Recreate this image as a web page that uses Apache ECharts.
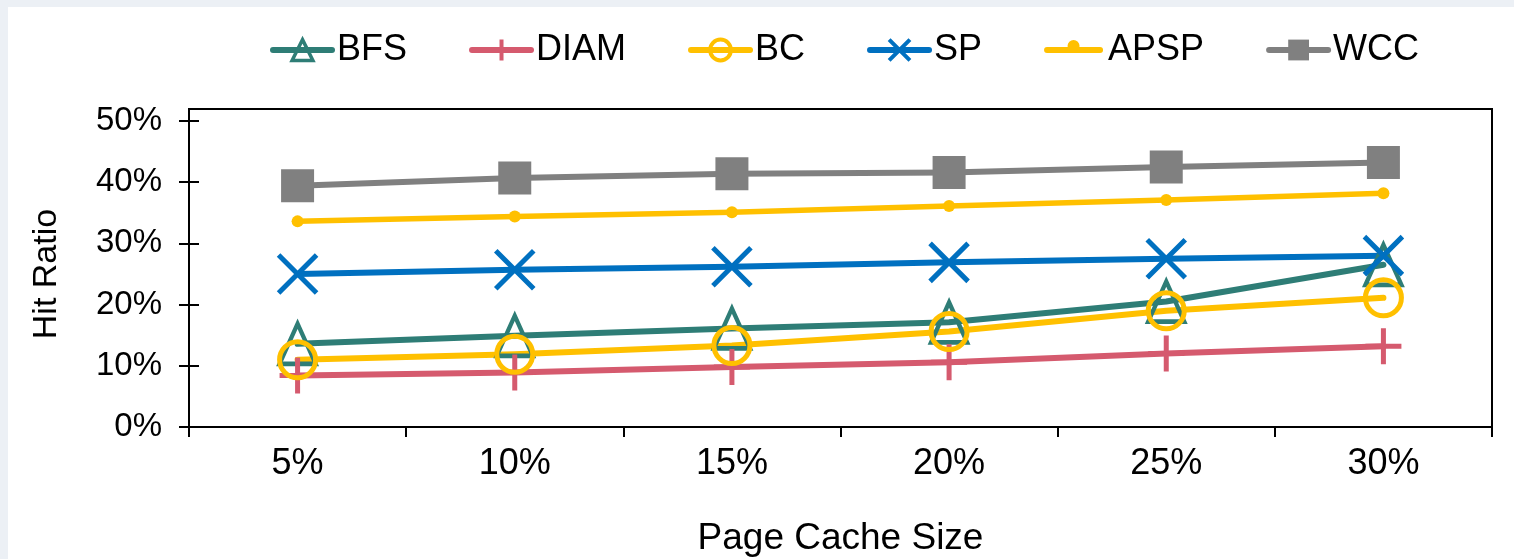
<!DOCTYPE html>
<html>
<head>
<meta charset="utf-8">
<script src="https://cdn.jsdelivr.net/npm/echarts@6/dist/echarts.min.js"></script>
<style>
  html, body { margin: 0; padding: 0; background: #ecf0f5; width: 1514px; height: 559px; overflow: hidden; }
  #chart { position: absolute; left: 8px; top: 7px; width: 1506px; height: 552px; background: #ffffff; }
</style>
</head>
<body>
<div id="chart"></div>
<script>
// Page cache size on the x axis, hit ratio (%) per graph algorithm
const categories = ['5%', '10%', '15%', '20%', '25%', '30%'];
const bfs  = [13.6, 14.9, 16.1, 17.1, 20.5, 26.5];
const diam = [8.4, 8.9, 9.8, 10.6, 12.0, 13.2];
const bc   = [11.0, 11.9, 13.3, 15.6, 19.0, 21.1];
const sp   = [25.0, 25.7, 26.2, 26.9, 27.5, 28.0];
const apsp = [33.6, 34.4, 35.1, 36.1, 37.1, 38.2];
const wcc  = [39.4, 40.7, 41.4, 41.6, 42.5, 43.2];
const yMin = 0, yMax = 50, yStep = 10;

const FONT = '"Liberation Sans", Arial, Helvetica, sans-serif';
const PLUS = 'path://M50,0 L50,100 M0,50 L100,50';
const CROSS = 'path://M0,0 L100,100 M100,0 L0,100';
// legend key for the small-dot series: rounded bar with a dot on it
// (the tiny trailing segment keeps the bar vertically centred in the key box)
const DOT_KEY = 'path://M3,13 H56 A3,3 0 0 1 56,19 H3 A3,3 0 0 1 3,13 Z ' +
                'M23.5,12 A6,6 0 1 1 35.5,12 A6,6 0 1 1 23.5,12 Z M29.5,26 L29.6,26';

function lineSeries(name, data, color, symbol, size, opts) {
  opts = opts || {};
  return {
    name: name,
    type: 'line',
    data: data,
    xAxisIndex: 0,
    yAxisIndex: 0,
    symbol: symbol,
    symbolSize: size,
    symbolKeepAspect: false,
    color: color,
    lineStyle: { color: color, width: opts.lineWidth || 6, cap: 'round', join: 'round' },
    itemStyle: opts.hollow
      ? { color: 'rgba(0,0,0,0)', borderColor: color, borderWidth: opts.borderWidth || 5 }
      : { color: color, borderColor: color, borderWidth: 0 },
    emphasis: { disabled: true },
    animation: false,
    clip: false
  };
}

const chart = echarts.init(document.getElementById('chart'), null, { renderer: 'canvas' });

chart.setOption({
  backgroundColor: '#ffffff',
  animation: false,
  textStyle: { fontFamily: FONT, color: '#000' },
  legend: {
    data: [
      { name: 'BFS', itemStyle: { borderWidth: 3.5 } },
      { name: 'DIAM', itemStyle: { borderWidth: 4 } },
      { name: 'BC', itemStyle: { borderWidth: 4 } },
      { name: 'SP', itemStyle: { borderWidth: 4 } },
      { name: 'APSP', icon: DOT_KEY, itemStyle: { color: '#FFC000', borderWidth: 0 } },
      { name: 'WCC', itemStyle: { borderWidth: 0 } }
    ],
    left: 262,
    top: 25,
    itemWidth: 59,
    itemHeight: 26,
    itemGap: 62,
    padding: 0,
    selectedMode: false,
    lineStyle: { width: 6, cap: 'round' },
    textStyle: { fontFamily: FONT, fontSize: 36, color: '#000' }
  },
  grid: [
    { left: 181, right: 22, top: 114, bottom: 132, containLabel: false, outerBoundsMode: 'none' },
    { left: 181, right: 22, top: 102, bottom: 132, containLabel: false, outerBoundsMode: 'none',
      show: true, borderColor: '#000', borderWidth: 2, backgroundColor: 'rgba(0,0,0,0)', z: 0 }
  ],
  xAxis: [
    {
      type: 'category',
      gridIndex: 0,
      data: categories,
      boundaryGap: true,
      name: 'Page Cache Size',
      nameLocation: 'middle',
      nameGap: 93,
      nameTextStyle: { fontFamily: FONT, fontSize: 37, color: '#000' },
      axisLine: { lineStyle: { color: '#000', width: 2 } },
      axisTick: { show: true, inside: false, length: 10, lineStyle: { color: '#000', width: 2 } },
      axisLabel: { fontFamily: FONT, fontSize: 36, color: '#000', margin: 19 },
      splitLine: { show: false }
    },
    { type: 'category', gridIndex: 1, show: false, data: categories }
  ],
  yAxis: [
    {
      type: 'value',
      gridIndex: 0,
      min: yMin,
      max: yMax,
      interval: yStep,
      name: 'Hit Ratio',
      nameLocation: 'middle',
      nameGap: 125,
      nameTextStyle: { fontFamily: FONT, fontSize: 34, color: '#000' },
      axisLine: { show: true, lineStyle: { color: '#000', width: 2 } },
      axisTick: { show: true, inside: false, length: 10, lineStyle: { color: '#000', width: 2 } },
      axisLabel: { fontFamily: FONT, fontSize: 33, color: '#000', margin: 27, formatter: '{value}%' },
      splitLine: { show: false }
    },
    {
      // inner half of the crossing tick marks
      type: 'value',
      gridIndex: 0,
      position: 'left',
      min: yMin,
      max: yMax,
      interval: yStep,
      axisLine: { show: false },
      axisTick: { show: true, inside: true, length: 10, lineStyle: { color: '#000', width: 2 } },
      axisLabel: { show: false },
      splitLine: { show: false }
    },
    { type: 'value', gridIndex: 1, show: false }
  ],
  series: [
    lineSeries('BFS', bfs, '#2E7D76', 'triangle', [36, 40], { hollow: true, borderWidth: 4.5 }),
    lineSeries('DIAM', diam, '#D55A6E', PLUS, 36, { hollow: true, borderWidth: 5, lineWidth: 6 }),
    lineSeries('BC', bc, '#FFC000', 'circle', 36, { hollow: true, borderWidth: 5 }),
    lineSeries('SP', sp, '#0070C0', CROSS, 38, { hollow: true, borderWidth: 5 }),
    lineSeries('APSP', apsp, '#FFC000', 'circle', 12, { lineWidth: 5.5 }),
    lineSeries('WCC', wcc, '#808080', 'rect', 33, { lineWidth: 6 })
  ]
});
</script>
</body>
</html>
